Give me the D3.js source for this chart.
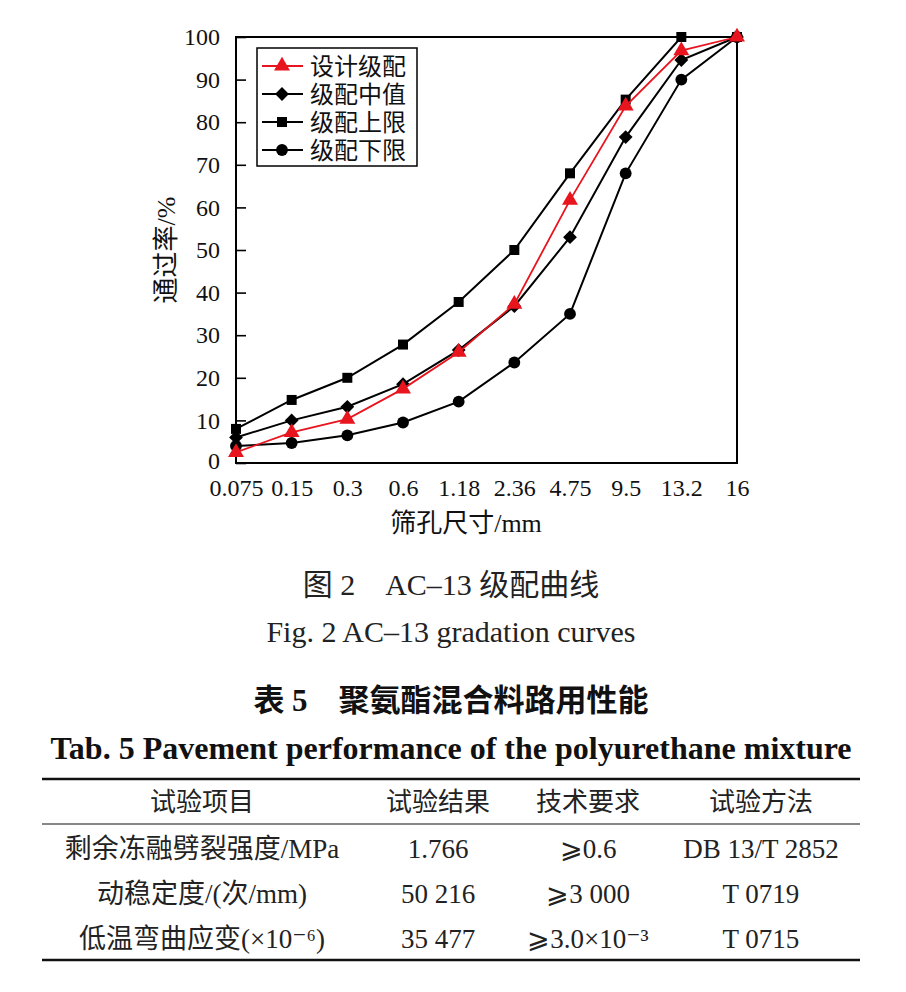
<!DOCTYPE html>
<html>
<head>
<meta charset="utf-8">
<script src="https://cdn.jsdelivr.net/npm/d3@7"></script>
<style>
  body { margin: 0; background: #fff; }
  svg { display: block; }
  .serif { font-family: "Liberation Serif", "Noto Sans CJK SC", serif; }
</style>
</head>
<body>
<div id="chart"></div>
<script>
// sieve sizes (mm) and passing percentages
var sieves = ["0.075", "0.15", "0.3", "0.6", "1.18", "2.36", "4.75", "9.5", "13.2", "16"];
var design = [2.5, 7.2, 10.3, 17.4, 26, 37.3, 61.7, 83.8, 96.8, 100];
var median = [6, 10, 13.2, 18.5, 26.5, 36.8, 53, 76.5, 94.6, 100];
var upper  = [8, 14.8, 20, 27.8, 37.8, 50, 68, 85.3, 100, 100];
var lower  = [4, 4.7, 6.5, 9.5, 14.4, 23.6, 35, 68, 90, 100];
var yTicks = [0, 10, 20, 30, 40, 50, 60, 70, 80, 90, 100];

// table 5
var tableHead = ["试验项目", "试验结果", "技术要求", "试验方法"];
var tableRows = [
    ["剩余冻融劈裂强度/MPa", "1.766", "⩾0.6", "DB 13/T 2852"],
    ["动稳定度/(次/mm)", "50 216", "⩾3 000", "T 0719"],
    ["低温弯曲应变(×10⁻⁶)", "35 477", "⩾3.0×10⁻³", "T 0715"]
];

var W = 906, H = 992;
var plot = {left: 236, right: 737, top: 37, bottom: 463};
var RED = "#e8141e";

var svg = d3.select("#chart").append("svg")
    .attr("width", W)
    .attr("height", H);

var x = d3.scalePoint()
    .domain(sieves)
    .range([plot.left, plot.right]);

var y = d3.scaleLinear()
    .domain([0, 100])
    .range([plot.bottom, plot.top]);

// y axis, ticks pointing inward
var yAxis = svg.append("g")
    .attr("class", "serif")
    .attr("transform", "translate(" + plot.left + ",0)")
    .call(d3.axisLeft(y).tickValues(yTicks).tickSizeInner(-10).tickSizeOuter(0).tickPadding(16));
yAxis.select(".domain").remove();
yAxis.selectAll("line").attr("stroke", "#000").attr("stroke-width", 1.6);
yAxis.selectAll("text").attr("font-size", 24).attr("fill", "#111").attr("font-family", null);
// lift the "0" a touch so it clears the first x label
yAxis.selectAll(".tick").filter(function(d) { return d == 0; }).select("text").attr("y", -2);

// x axis, labels only
var xAxis = svg.append("g")
    .attr("class", "serif")
    .attr("transform", "translate(0," + plot.bottom + ")")
    .call(d3.axisBottom(x).tickSize(0).tickPadding(16));
xAxis.select(".domain").remove();
xAxis.selectAll("text").attr("font-size", 24).attr("fill", "#111").attr("font-family", null);

// frame
svg.append("rect")
    .attr("x", plot.left).attr("y", plot.top)
    .attr("width", plot.right - plot.left).attr("height", plot.bottom - plot.top)
    .attr("fill", "none").attr("stroke", "#000").attr("stroke-width", 2);

// axis titles
svg.append("text").attr("class", "serif")
    .attr("transform", "translate(166," + 250 + ") rotate(-90)")
    .attr("text-anchor", "middle").attr("dy", "0.35em")
    .attr("font-size", 26).attr("fill", "#111")
    .text("通过率/%");
svg.append("text").attr("class", "serif")
    .attr("x", 466).attr("y", 532)
    .attr("text-anchor", "middle")
    .attr("font-size", 26).attr("fill", "#111")
    .text("筛孔尺寸/mm");

var series = [
    {name: "级配上限", values: upper, color: "#000", symbol: d3.symbolSquare, size: 100, rot: 0, width: 2},
    {name: "级配下限", values: lower, color: "#000", symbol: d3.symbolCircle, size: 110, rot: 0, width: 2},
    {name: "级配中值", values: median, color: "#000", symbol: d3.symbolSquare, size: 95, rot: 45, width: 2},
    {name: "设计级配", values: design, color: RED, symbol: d3.symbolTriangle, size: 110, rot: 0, width: 1.8}
];

var line = d3.line()
    .x(function(d, i) { return x(sieves[i]); })
    .y(function(d) { return y(d); });

series.forEach(function(s) {
    svg.append("path")
        .datum(s.values)
        .attr("d", line)
        .attr("fill", "none")
        .attr("stroke", s.color)
        .attr("stroke-width", s.width);
    svg.selectAll(null)
        .data(s.values)
        .enter()
        .append("path")
        .attr("transform", function(d, i) { return "translate(" + x(sieves[i]) + "," + y(d) + ") rotate(" + s.rot + ")"; })
        .attr("d", d3.symbol().type(s.symbol).size(s.size))
        .attr("fill", s.color);
});

// legend
var legendOrder = ["设计级配", "级配中值", "级配上限", "级配下限"];
var legend = svg.append("g").attr("transform", "translate(257,48)");
legend.append("rect")
    .attr("width", 160).attr("height", 118)
    .attr("fill", "#fff").attr("stroke", "#000").attr("stroke-width", 1.5);
legendOrder.forEach(function(name, i) {
    var s = series.filter(function(d) { return d.name == name; })[0];
    var row = legend.append("g").attr("transform", "translate(0," + (18 + i * 28) + ")");
    row.append("line")
        .attr("x1", 5).attr("x2", 46)
        .attr("stroke", s.color).attr("stroke-width", s.width);
    row.append("path")
        .attr("transform", "translate(25,0) rotate(" + s.rot + ")")
        .attr("d", d3.symbol().type(s.symbol).size(s.size))
        .attr("fill", s.color);
    row.append("text")
        .attr("class", "serif")
        .attr("x", 53).attr("dy", "0.36em")
        .attr("font-size", 24).attr("fill", "#111")
        .text(name);
});

// figure captions
svg.append("text").attr("class", "serif")
    .attr("x", 451).attr("y", 595).attr("text-anchor", "middle")
    .attr("font-size", 30).attr("fill", "#222")
    .text("图 2　AC–13 级配曲线");
svg.append("text").attr("class", "serif")
    .attr("x", 451).attr("y", 642).attr("text-anchor", "middle")
    .attr("font-size", 30).attr("fill", "#222")
    .text("Fig. 2 AC–13 gradation curves");

// table captions
svg.append("text").attr("class", "serif")
    .attr("x", 451).attr("y", 711).attr("text-anchor", "middle")
    .attr("font-weight", "bold")
    .attr("font-size", 31).attr("fill", "#111")
    .text("表 5　聚氨酯混合料路用性能");
svg.append("text").attr("class", "serif")
    .attr("x", 451).attr("y", 759).attr("text-anchor", "middle")
    .attr("font-weight", "bold").attr("font-size", 32).attr("fill", "#111")
    .text("Tab. 5 Pavement performance of the polyurethane mixture");

// table rules and cells
var colX = [202, 438, 588, 761];
var tbl = {left: 42, right: 860, top: 779, head: 824, bottom: 960};
svg.append("line").attr("x1", tbl.left).attr("x2", tbl.right).attr("y1", tbl.top).attr("y2", tbl.top)
    .attr("stroke", "#111").attr("stroke-width", 2.5);
svg.append("line").attr("x1", tbl.left).attr("x2", tbl.right).attr("y1", tbl.head).attr("y2", tbl.head)
    .attr("stroke", "#111").attr("stroke-width", 1.2);
svg.append("line").attr("x1", tbl.left).attr("x2", tbl.right).attr("y1", tbl.bottom).attr("y2", tbl.bottom)
    .attr("stroke", "#111").attr("stroke-width", 2.5);

svg.selectAll(".head")
    .data(tableHead)
    .enter()
    .append("text")
    .attr("class", "head serif")
    .attr("x", function(d, i) { return colX[i]; })
    .attr("y", 802).attr("dy", "0.36em")
    .attr("text-anchor", "middle")
    .attr("font-size", 26).attr("fill", "#222")
    .text(function(d) { return d; });

tableRows.forEach(function(r, j) {
    svg.selectAll(null)
        .data(r)
        .enter()
        .append("text")
        .attr("font-family", "'Liberation Serif', 'DejaVu Serif', 'Noto Sans CJK SC', serif")
        .attr("x", function(d, i) { return colX[i]; })
        .attr("y", 848 + j * 45).attr("dy", "0.36em")
        .attr("text-anchor", "middle")
        .attr("font-size", 27).attr("fill", "#222")
        .text(function(d) { return d; });
});
</script>
</body>
</html>
